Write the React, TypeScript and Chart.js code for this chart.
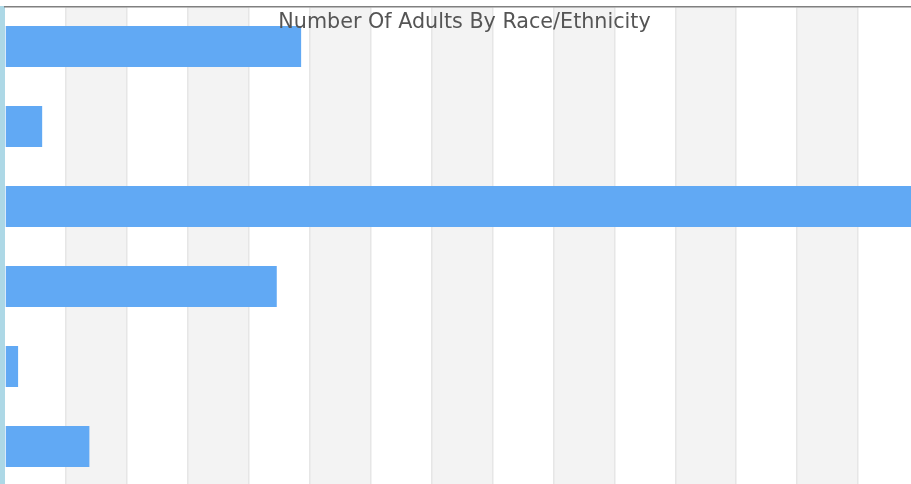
import React, { useEffect, useRef } from "react";
import { Chart, registerables } from "chart.js";

Chart.register(...registerables);

const TITLE = "Number Of Adults By Race/Ethnicity";
const categories = ["Hispanic", "Black", "White", "Asian", "American Indian", "Other"];
const adults = [4860, 610, 15000, 4460, 215, 1385];
const xMin = 0;
const xMax = 15000;
const xStep = 1000;

const BAR_COLOR = "#61a9f4";
const BAND_COLOR = "#f3f3f3";
const GRID_COLOR = "#e6e6e6";
const AXIS_BAND = "#add8e6";
const TOP_LINE = "#808080";
const TITLE_COLOR = "#555555";

const CANVAS_W = 929;
const CANVAS_H = 487;

const decorPlugin = {
  id: "decor",
  beforeDraw(chart: any) {
    const { ctx, chartArea, scales } = chart;
    const x = scales.x;
    ctx.save();
    ctx.fillStyle = "#ffffff";
    ctx.fillRect(0, 0, chart.width, chart.height);
    const ticks = x.ticks;
    for (let i = 0; i < ticks.length - 1; i++) {
      if (i % 2 === 1) {
        const a = x.getPixelForValue(ticks[i].value);
        const b = x.getPixelForValue(ticks[i + 1].value);
        ctx.fillStyle = BAND_COLOR;
        ctx.fillRect(a, chartArea.top, b - a, chartArea.bottom - chartArea.top);
      }
    }
    ctx.fillStyle = AXIS_BAND;
    ctx.fillRect(0, chartArea.top - 0.5, chartArea.left, chartArea.bottom - chartArea.top + 1);
    ctx.restore();
  },
  afterDraw(chart: any) {
    const { ctx } = chart;
    ctx.save();
    ctx.font = "20.7px 'DejaVu Sans'";
    ctx.fillStyle = TITLE_COLOR;
    ctx.textAlign = "center";
    ctx.textBaseline = "alphabetic";
    ctx.fillText(TITLE, chart.width / 2, 28);
    ctx.restore();
  },
};

export default function App() {
  const ref = useRef<HTMLCanvasElement | null>(null);
  useEffect(() => {
    if (!ref.current) return;
    const chart = new Chart(ref.current, {
      type: "bar",
      data: {
        labels: categories,
        datasets: [
          {
            label: "Adults",
            data: adults,
            backgroundColor: BAR_COLOR,
            borderWidth: 0,
            barPercentage: 0.51,
            categoryPercentage: 1,
          },
        ],
      },
      options: {
        indexAxis: "y",
        animation: false,
        responsive: false,
        devicePixelRatio: 1,
        layout: { padding: { left: 5, right: 10, top: 6.5, bottom: 0.5 } },
        plugins: {
          legend: { display: false },
          title: { display: false },
          tooltip: { enabled: false },
        },
        scales: {
          x: {
            position: "top",
            min: xMin,
            max: xMax,
            ticks: { display: false, stepSize: xStep },
            grid: {
              display: true,
              drawTicks: false,
              lineWidth: 1.5,
              color: (c: any) => (c.tick && c.tick.value === 0 ? "rgba(0,0,0,0)" : GRID_COLOR),
            },
            border: { display: true, color: TOP_LINE, width: 1.5 },
          },
          y: {
            ticks: { display: false },
            grid: { display: false, drawTicks: false },
            border: { display: false },
          },
        },
      },
      plugins: [decorPlugin],
    } as any);
    return () => chart.destroy();
  }, []);
  return (
    <div
      style={{
        position: "fixed",
        left: 0,
        top: 0,
        width: 911,
        height: 484,
        overflow: "hidden",
        background: "#fff",
      }}
    >
      <canvas ref={ref} width={CANVAS_W} height={CANVAS_H} style={{ display: "block" }} />
    </div>
  );
}
